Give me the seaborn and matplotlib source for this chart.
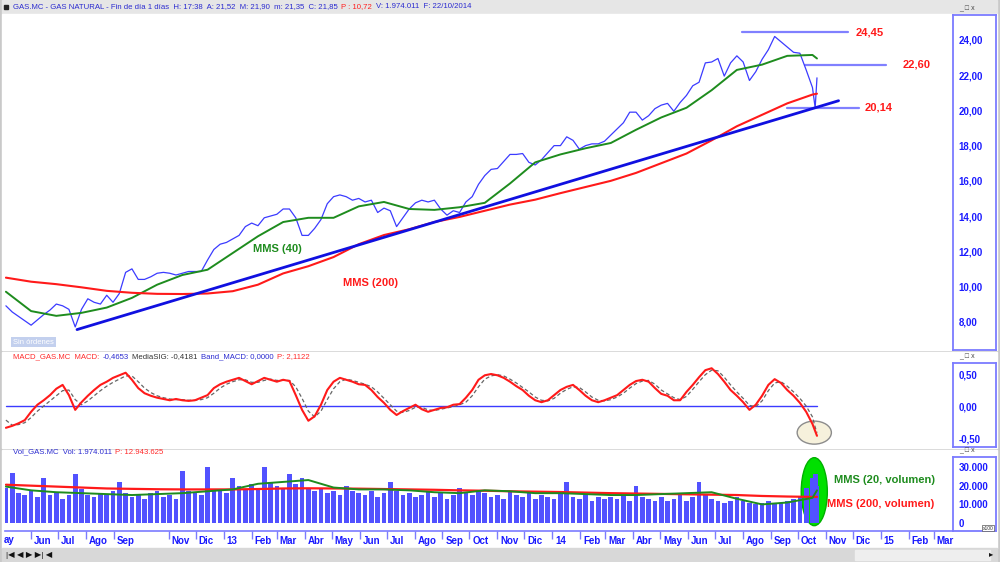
import matplotlib
matplotlib.use("Agg")
import matplotlib.pyplot as plt
import matplotlib.dates as mdates
from matplotlib.patches import Ellipse, Rectangle
from matplotlib.ticker import FuncFormatter
from matplotlib.transforms import ScaledTranslation
import seaborn as sns
import pandas as pd

sns.set_style("white")
plt.rcParams["font.family"] = ["Liberation Sans", "DejaVu Sans"]

# ---- data (weekly values, last two sessions daily) ----
week = list(pd.date_range("2012-05-04", "2014-10-17", freq="W-FRI"))
dates = week + [pd.Timestamp("2014-10-20"), pd.Timestamp("2014-10-22")]

price = [8.9, 8.55, 8.3, 8.05, 7.8, 8.1, 8.4, 8.66, 9.0, 8.9,
         8.7, 7.7, 8.7, 9.3, 9.1, 9.0, 9.5, 9.1, 9.6, 10.8,
         11.0, 10.4, 10.4, 10.55, 10.75, 10.8, 10.75, 10.65, 10.75, 10.85,
         10.85, 10.85, 11.5, 12.1, 12.4, 12.5, 12.7, 12.9, 13.4, 13.6,
         13.45, 13.9, 14.0, 14.1, 14.4, 14.4, 13.9, 12.9, 12.9, 13.3,
         13.8, 14.7, 15.1, 15.2, 15.1, 14.9, 15.0, 14.8, 14.9, 14.2,
         14.45, 14.3, 13.4, 13.9, 14.4, 14.75, 14.9, 14.8, 14.9, 14.4,
         14.05, 14.3, 14.2, 14.8, 15.1, 15.8, 16.3, 16.65, 16.7, 17.1,
         17.5, 17.5, 17.55, 17.05, 16.9, 17.2, 17.6, 18.0, 18.0, 18.5,
         18.3, 17.8, 18.0, 18.1, 18.1, 18.25, 18.6, 18.95, 19.3, 19.9,
         19.9, 19.45, 19.7, 20.1, 20.3, 20.4, 19.95, 20.45, 20.85, 21.4,
         21.6, 22.7, 22.75, 22.95, 21.95, 22.7, 23.1, 22.75, 21.7, 22.2,
         22.9, 23.45, 24.2, 23.9, 23.6, 23.3, 23.25, 22.3, 21.3, 20.14,
         21.85]

ma_dates = week[::4] + [pd.Timestamp("2014-10-22")]
mms40 = [9.7, 8.6, 8.33, 8.5, 8.8, 9.35, 10.1, 10.65, 10.95, 11.9,
         12.85, 13.66, 13.9, 13.9, 14.55, 14.8, 14.4, 14.35, 14.5, 14.75,
         15.85, 17.05, 17.5, 17.85, 18.15, 18.9, 19.6, 20.15, 21.15, 22.3,
         22.6, 23.1, 23.15, 22.95]
mms200 = [10.5, 10.27, 10.13, 9.95, 9.75, 9.64, 9.58, 9.57, 9.6, 9.73,
          10.1, 10.74, 11.15, 11.67, 12.4, 12.92, 13.25, 13.66, 13.95, 14.3,
          14.65, 14.93, 15.3, 15.65, 16.0, 16.45, 17.0, 17.55, 18.3, 19.1,
          19.75, 20.4, 20.9, 20.95]

trend_dates = pd.to_datetime(["2012-07-22", "2014-11-15"])
trend_vals = [7.55, 20.55]

levels = [24.45, 22.60, 20.14]
level_start = pd.to_datetime(["2014-07-31", "2014-10-09", "2014-09-19"])
level_end = pd.to_datetime(["2014-11-25", "2015-01-07", "2014-12-08"])
level_text = ["24,45", "22,60", "20,14"]
level_gap = [6, 12, 4]

macd = [-0.34, -0.31, -0.27, -0.22, -0.09, 0.02, 0.09, 0.17, 0.27, 0.33,
        0.17, -0.06, 0.06, 0.16, 0.25, 0.33, 0.38, 0.44, 0.48, 0.52,
        0.41, 0.28, 0.2, 0.16, 0.13, 0.11, 0.09, 0.11, 0.09, 0.08,
        0.09, 0.13, 0.17, 0.28, 0.34, 0.38, 0.41, 0.44, 0.39, 0.34,
        0.39, 0.44, 0.41, 0.38, 0.41, 0.39, 0.17, -0.06, -0.23, -0.16,
        0.02, 0.25, 0.38, 0.44, 0.41, 0.38, 0.34, 0.33, 0.25, 0.14,
        0.05, -0.06, -0.14, -0.08, -0.03, 0.02, -0.05, -0.09, -0.06, -0.03,
        -0.02, 0.02, 0.03, 0.13, 0.25, 0.41, 0.48, 0.5, 0.48, 0.44,
        0.38, 0.31, 0.25, 0.16, 0.09, 0.06, 0.09, 0.17, 0.25, 0.3,
        0.33, 0.25, 0.16, 0.09, 0.06, 0.09, 0.13, 0.17, 0.25, 0.33,
        0.39, 0.41, 0.38, 0.28, 0.19, 0.16, 0.09, 0.09, 0.22, 0.33,
        0.45, 0.56, 0.59, 0.5, 0.38, 0.25, 0.16, 0.06, -0.06, 0.02,
        0.16, 0.33, 0.42, 0.36, 0.25, 0.16, 0.05, -0.09, -0.28, -0.39,
        -0.4653]
macd_sig = [-0.22, -0.3, -0.29, -0.26, -0.18, -0.08, 0.0, 0.08, 0.16, 0.24,
            0.25, 0.1, 0.02, 0.08, 0.16, 0.24, 0.31, 0.37, 0.42, 0.47,
            0.47, 0.38, 0.28, 0.21, 0.16, 0.13, 0.11, 0.1, 0.1, 0.09,
            0.09, 0.1, 0.13, 0.2, 0.28, 0.34, 0.38, 0.41, 0.41, 0.37,
            0.37, 0.4, 0.42, 0.4, 0.4, 0.4, 0.3, 0.12, -0.08, -0.17,
            -0.08, 0.1, 0.27, 0.38, 0.42, 0.4, 0.37, 0.34, 0.3, 0.22,
            0.12, 0.02, -0.08, -0.1, -0.07, -0.02, -0.02, -0.06, -0.07, -0.05,
            -0.03, -0.01, 0.02, 0.06, 0.16, 0.3, 0.42, 0.47, 0.49, 0.47,
            0.42, 0.36, 0.29, 0.22, 0.14, 0.09, 0.08, 0.12, 0.2, 0.26,
            0.3, 0.29, 0.22, 0.14, 0.09, 0.08, 0.1, 0.14, 0.2, 0.28,
            0.35, 0.39, 0.4, 0.34, 0.25, 0.19, 0.13, 0.1, 0.15, 0.26,
            0.38, 0.49, 0.56, 0.55, 0.45, 0.33, 0.22, 0.12, 0.01, -0.01,
            0.08, 0.24, 0.36, 0.38, 0.31, 0.22, 0.12, 0.0, -0.17, -0.33,
            -0.4181]

volume = [19000, 27000, 16000, 15000, 17000, 14000, 24000, 15000, 16000, 13000,
          15000, 26000, 18000, 15000, 14000, 16000, 15000, 17000, 22000, 16000,
          14000, 15000, 13000, 16000, 17000, 14000, 15000, 13000, 28000, 17000,
          16000, 15000, 30000, 18000, 17000, 16000, 24000, 20000, 18000, 21000,
          19000, 30000, 22000, 20000, 18000, 26000, 21000, 24000, 19000, 17000,
          18000, 16000, 17000, 15000, 20000, 17000, 16000, 15000, 17000, 14000,
          16000, 22000, 17000, 15000, 16000, 14000, 15000, 17000, 14000, 16000,
          13000, 15000, 19000, 16000, 15000, 17000, 16000, 14000, 15000, 13000,
          17000, 15000, 14000, 16000, 13000, 15000, 14000, 13000, 16000, 22000,
          14000, 13000, 15000, 12000, 14000, 13000, 14000, 13000, 15000, 12000,
          20000, 14000, 13000, 12000, 14000, 12000, 13000, 16000, 12000, 14000,
          22000, 15000, 13000, 12000, 11000, 12000, 14000, 12000, 11000, 10000,
          11000, 12000, 10000, 11000, 12000, 13000, 14000, 19000, 24000, 26000,
          19740]
vol_mms20 = [19500, 17500, 16500, 16000, 15500, 15000, 15500, 16000, 17000, 18000,
             21000, 22000, 23000, 19000, 18000, 18000, 17500, 16500, 16000, 17500,
             17000, 16000, 16000, 15500, 15000, 15000, 15500, 16000, 16500, 13000,
             10000, 11000, 13500, 17500]
vol_mms200 = [20500, 20000, 19500, 19000, 18500, 18300, 18100, 18000, 18000, 18000,
              18200, 18500, 18600, 18500, 18400, 18200, 18000, 17800, 17500, 17300,
              17000, 16800, 16600, 16300, 16000, 15800, 15600, 15400, 15200, 15000,
              14500, 14200, 14000, 14000]

month_ticks = pd.to_datetime([
    "2012-06-01", "2012-07-01", "2012-08-01", "2012-09-01", "2012-11-01", "2012-12-01",
    "2013-01-01", "2013-02-01", "2013-03-01", "2013-04-01", "2013-05-01", "2013-06-01",
    "2013-07-01", "2013-08-01", "2013-09-01", "2013-10-01", "2013-11-01", "2013-12-01",
    "2014-01-01", "2014-02-01", "2014-03-01", "2014-04-01", "2014-05-01", "2014-06-01",
    "2014-07-01", "2014-08-01", "2014-09-01", "2014-10-01", "2014-11-01", "2014-12-01",
    "2015-01-01", "2015-02-01", "2015-03-01"])
month_labels = ["Jun", "Jul", "Ago", "Sep", "Nov", "Dic",
                "13", "Feb", "Mar", "Abr", "May", "Jun",
                "Jul", "Ago", "Sep", "Oct", "Nov", "Dic",
                "14", "Feb", "Mar", "Abr", "May", "Jun",
                "Jul", "Ago", "Sep", "Oct", "Nov", "Dic",
                "15", "Feb", "Mar"]

price_ticks = [8, 10, 12, 14, 16, 18, 20, 22, 24]
macd_ticks = [-0.5, 0.0, 0.5]
vol_ticks = [0, 10000, 20000, 30000]

# ---- figure ----
W, H = 1000, 562
BLUE = "#1a1aff"
BOXBLUE = "#7b7bff"
xlim = (pd.Timestamp("2012-05-03"), pd.Timestamp("2015-03-21"))


def box(x0, y0, x1, y1):
    return [x0 / W, 1 - y1 / H, (x1 - x0) / W, (y1 - y0) / H]


fig = plt.figure(figsize=(10, 5.62), dpi=100, facecolor="#c9c9c9")

# panel backgrounds
for (y0, y1, c) in [(0, 14, "#e6e6e6"), (14, 350, "white"), (352, 448, "white"),
                    (450, 531, "white"), (531, 548, "white"), (548, 562, "#d8d8d8")]:
    fig.patches.append(Rectangle((2 / W, 1 - y1 / H), 995 / W, (y1 - y0) / H,
                                 transform=fig.transFigure, color=c, zorder=-5))

ax = fig.add_axes(box(5, 15, 952, 350))
ax_m = fig.add_axes(box(5, 363, 952, 447))
ax_v = fig.add_axes(box(5, 457, 952, 531))
ax_d = fig.add_axes(box(5, 531, 952, 548))

for a in (ax, ax_m, ax_v, ax_d):
    a.set_xlim(*xlim)
    a.set_facecolor("none")
    for s in a.spines.values():
        s.set_visible(False)
    a.set_yticks([])

for a in (ax, ax_m, ax_v):
    a.set_xticks([])

# price panel
sns.lineplot(x=dates, y=price, ax=ax, color="#3b3bff", lw=0.9, zorder=3)
sns.lineplot(x=ma_dates, y=mms40, ax=ax, color="#1e8c1e", lw=1.4, zorder=4)
sns.lineplot(x=ma_dates, y=mms200, ax=ax, color="#ff1a1a", lw=1.5, zorder=4)
sns.lineplot(x=trend_dates, y=trend_vals, ax=ax, color="#1010e0", lw=2.0, zorder=5)
for lv, s, e, t, g in zip(levels, level_start, level_end, level_text, level_gap):
    ax.plot([s, e], [lv, lv], color="#8080ff", lw=1.6, zorder=2)
    ax.annotate(t, xy=(e, lv), xytext=(g, 0), textcoords="offset points",
                color="#ff1a1a", fontsize=8, fontweight="bold", va="center", ha="left")
ax.set_ylim(6.39, 25.42)
ax.text(pd.Timestamp("2013-02-02"), 12.13, "MMS (40)", color="#1e8c1e",
        fontsize=8, fontweight="bold", va="center")
ax.text(pd.Timestamp("2013-05-13"), 10.19, "MMS (200)", color="#ff1a1a",
        fontsize=8, fontweight="bold", va="center")
fig.text(13 / W, 1 - 342 / H, "Sin órdenes", color="white", fontsize=5.5, va="center",
         bbox=dict(boxstyle="square,pad=0.25", fc="#c3d0ee", ec="none"))

# MACD panel
last = mdates.date2num(dates[-1])
sns.lineplot(x=dates, y=macd_sig, ax=ax_m, color="#666666", lw=0.9, ls=(0, (3, 2)), zorder=3)
sns.lineplot(x=dates, y=macd, ax=ax_m, color="#ff1a1a", lw=1.5, zorder=4)
ax_m.plot([dates[0], dates[-1]], [0, 0], color="#3b3bff", lw=1.0, zorder=2)
ax_m.add_patch(Ellipse((last - 3, macd[-1] + 0.05), width=38, height=0.36,
                       fc="#f6f1dc", ec="#8c8c8c", lw=1.0, zorder=1))
ax_m.set_ylim(-0.64, 0.672)

# volume panel
ax_v.add_patch(Ellipse((last - 3, 16800), width=29, height=36300,
                       fc="#00e000", ec="#00b000", lw=1.0, zorder=1))
ax_v.bar(dates, volume, width=5.2, color="#5252ff", edgecolor="none", lw=0, zorder=2)
sns.lineplot(x=ma_dates, y=vol_mms20, ax=ax_v, color="#1e8c1e", lw=1.4, zorder=4)
sns.lineplot(x=ma_dates, y=vol_mms200, ax=ax_v, color="#ff1a1a", lw=1.6, zorder=3)
ax_v.text(pd.Timestamp("2014-11-10"), 23200, "MMS (20, volumen)", color="#1e8c1e",
          fontsize=8, fontweight="bold", va="center")
ax_v.text(pd.Timestamp("2014-11-02"), 10000, "MMS (200, volumen)", color="#ff1a1a",
          fontsize=8, fontweight="bold", va="center")
ax_v.set_ylim(-4200, 35300)

for a in (ax, ax_m, ax_v):
    a.set_xlim(*xlim)
    a.set_xlabel("")
    a.set_ylabel("")

# right value boxes
comma2 = FuncFormatter(lambda v, p: f"{v:.2f}".replace(".", ","))
thousands = FuncFormatter(lambda v, p: f"{int(v):,}".replace(",", "."))
for (y0, y1), lim, ticks, fmt in [((15, 350), ax.get_ylim(), price_ticks, comma2),
                                  ((363, 447), ax_m.get_ylim(), macd_ticks, comma2),
                                  ((457, 531), ax_v.get_ylim(), vol_ticks, thousands)]:
    r = fig.add_axes(box(953, y0, 996, y1))
    r.set_ylim(lim)
    r.set_xticks([])
    r.set_yticks(ticks)
    r.yaxis.set_major_formatter(fmt)
    r.tick_params(axis="y", direction="in", length=3, width=1, color=BLUE,
                  labelcolor=BLUE, labelsize=7, pad=-4)
    for lab in r.get_yticklabels():
        lab.set_ha("left")
        lab.set_fontweight("bold")
    for s in r.spines.values():
        s.set_color(BOXBLUE)
        s.set_linewidth(1.3)
    # window buttons
    fig.text(959 / W, 1 - (y0 - 6) / H, "_ \u25a1 x", fontsize=5, color="#444444", va="center")
fig.text(983 / W, 1 - 528 / H, "x100", fontsize=3.5, color="#333333", va="center",
         bbox=dict(boxstyle="square,pad=0.15", fc="white", ec="#555555", lw=0.5))

# date strip
ax_d.set_ylim(0, 1)
ax_d.set_xticks(month_ticks)
ax_d.set_xticklabels(month_labels)
ax_d.tick_params(axis="x", top=True, bottom=False, direction="in", length=6, width=1,
                 color=BOXBLUE, labeltop=False, labelbottom=True, labelsize=7,
                 labelcolor=BLUE, pad=-8.5)
shift = ScaledTranslation(2 / 72, 0, fig.dpi_scale_trans)
for lab in ax_d.get_xticklabels():
    lab.set_ha("left")
    lab.set_fontweight("bold")
    lab.set_transform(lab.get_transform() + shift)
ax_d.spines["top"].set_visible(True)
ax_d.spines["top"].set_color(BOXBLUE)
ax_d.spines["top"].set_linewidth(1.2)
fig.text(4 / W, 1 - 540 / H, "ay", fontsize=7, color=BLUE, fontweight="bold", va="center")


# headers: coloured pieces chained one after another
def chain(y, parts, size=5.6):
    prev = fig.text(13 / W, 1 - y / H, parts[0][0], color=parts[0][1], fontsize=size, va="center")
    for txt, col in parts[1:]:
        prev = fig.add_artist(plt.Annotation(txt, xy=(1, 0.5), xycoords=prev, xytext=(2.5, 0),
                                             textcoords="offset points", color=col,
                                             fontsize=size, va="center"))


fig.patches.append(Rectangle((4 / W, 1 - 9 / H), 4 / W, 4 / H, transform=fig.transFigure,
                             color="#222222"))
chain(7, [("GAS.MC - GAS NATURAL - Fin de día 1 días  H: 17:38  A: 21,52  M: 21,90  m: 21,35  C: 21,85", "#2b2bd0"),
          ("P : 10,72", "#ff2020"), ("V: 1.974.011  F: 22/10/2014", "#2b2bd0")])
chain(357, [("MACD_GAS.MC  MACD:", "#ff2a2a"), ("-0,4653", "#2b2bd0"),
            ("MediaSIG: -0,4181", "#333333"), ("Band_MACD: 0,0000", "#2b2bd0"),
            ("P: 2,1122", "#ff2a2a")])
chain(452, [("Vol_GAS.MC  Vol: 1.974.011", "#2b2bd0"), ("P: 12.943.625", "#ff2a2a")])

# bottom navigation bar
fig.text(6 / W, 1 - 555 / H, "|\u25c0 \u25c0 \u25b6 \u25b6| \u25c0", fontsize=6, color="#111111", va="center")
fig.patches.append(Rectangle((855 / W, 1 - 560 / H), 135 / W, 10 / H, transform=fig.transFigure,
                             color="#eeeeee"))
fig.text(989 / W, 1 - 555 / H, "\u25b8", fontsize=6, color="#111111", va="center")

fig.savefig("out.png", dpi=100, facecolor=fig.get_facecolor())
